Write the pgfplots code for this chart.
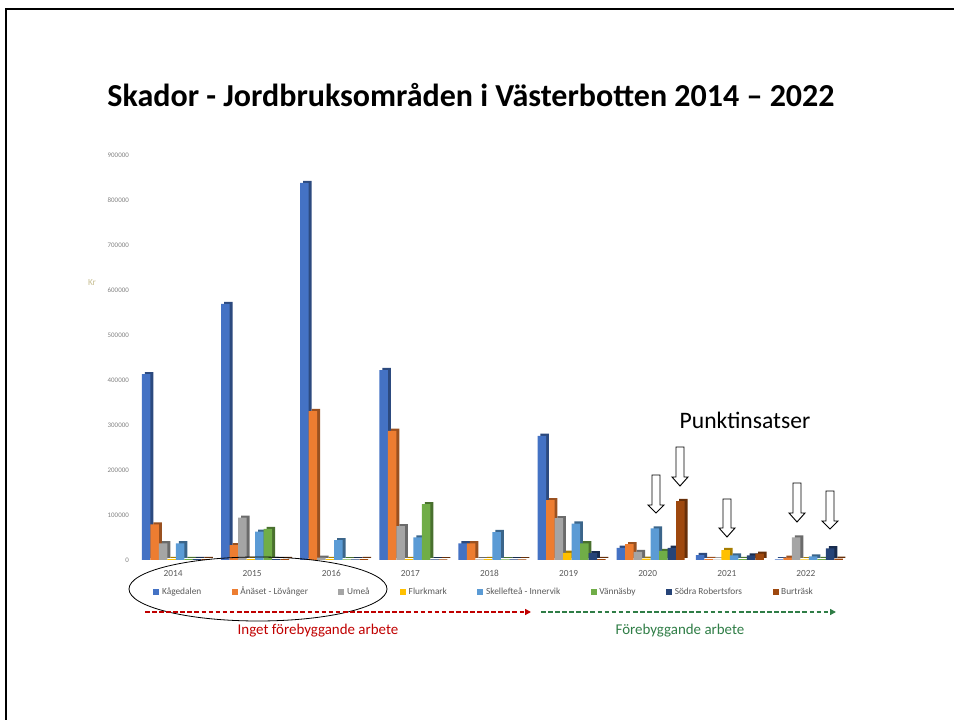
\documentclass[border=0pt]{standalone}
\usepackage{pgfplots}
\pgfplotsset{compat=1.18}
\usepackage{pgfplotstable}
\usepackage{fontspec}
\setmainfont{Carlito}
\usetikzlibrary{arrows.meta}
\definecolor{c0}{HTML}{4472C4}
\definecolor{c1}{HTML}{ED7D31}
\definecolor{c2}{HTML}{A5A5A5}
\definecolor{c3}{HTML}{FFC000}
\definecolor{c4}{HTML}{5B9BD5}
\definecolor{c5}{HTML}{70AD47}
\definecolor{c6}{HTML}{264478}
\definecolor{c7}{HTML}{9E480E}
\colorlet{d0}{c0!65!black}
\colorlet{d1}{c1!65!black}
\colorlet{d2}{c2!65!black}
\colorlet{d3}{c3!65!black}
\colorlet{d4}{c4!65!black}
\colorlet{d5}{c5!65!black}
\colorlet{d6}{c6!65!black}
\colorlet{d7}{c7!65!black}
\definecolor{txtgray}{HTML}{595959}
\definecolor{redtxt}{HTML}{C00000}
\definecolor{greentxt}{HTML}{2F7D46}
\pgfplotsset{mylegend/.style={legend image code/.code={\fill[##1] (0pt,-2.2pt) rectangle (4.5pt,2.2pt);}}}
\pgfplotstableread{
x s0 s1 s2 s3 s4 s5 s6 s7
0 413000 79000 37000 2000 37000 2000 2000 2000
1 569000 33000 94000 2000 63000 69000 2000 2000
2 838000 331000 5000 2000 44000 1500 1500 2000
3 422000 287000 75000 2000 50000 124000 1500 1500
4 37000 37000 1500 2000 62000 1500 1500 1500
5 276000 133000 93000 16000 81000 37000 15000 2000
6 27000 35000 18000 3000 70000 20000 27000 131000
7 11000 2000 1000 22000 10000 2000 10000 14000
8 1500 5000 50000 1500 8000 2000 26000 3000
}\datatable
\begin{document}
\begin{tikzpicture}
\useasboundingbox (0,0) rectangle (715.5pt,540pt);
\begin{axis}[
  at={(100.125pt,120pt)}, anchor=south west,
  scale only axis, width=534pt, height=303.75pt,
  xmin=-0.5, xmax=8.5, ymin=0, ymax=900000,
  enlargelimits=false,
  axis x line*=bottom, axis y line*=left,
  axis line style={draw=none}, tick style={draw=none},
  ytick={0,100000,...,900000},
  scaled y ticks=false,
  yticklabel style={/pgf/number format/fixed,/pgf/number format/1000 sep={},
     font=\fontsize{5.2}{6}\selectfont, text=gray},
  xtick={0,...,8},
  xticklabels={2014,2015,2016,2017,2018,2019,2020,2021,2022},
  xticklabel style={font=\fontsize{7}{8}\selectfont, text=txtgray, anchor=base, yshift=-12.5pt},
  /pgf/number format/assume math mode=true,
  legend columns=8,
  legend style={draw=none, fill=none, at={(0.022,-0.079)}, anchor=west,
     font=\fontsize{7}{8}\selectfont, text=txtgray,
     /tikz/every even column/.append style={column sep=20.8pt}},
]
\pgfplotsinvokeforeach{0,...,7}{
  \addplot[ybar, bar width=6.375pt, bar shift={(#1-3.5)*6.375pt+4.4pt}, fill=d#1, draw=none, yshift=1.6pt, forget plot] table[x=x, y=s#1]{\datatable};
  \addplot[ybar, bar width=6.375pt, bar shift={(#1-3.5)*6.375pt+2.2pt}, fill=c#1, draw=none, mylegend] table[x=x, y=s#1]{\datatable};
}
\legend{Kågedalen, Ånäset - Lövånger, Umeå, Flurkmark, Skellefteå - Innervik, Vännäsby, Södra Robertsfors, Burträsk}
\end{axis}
\begin{scope}[x=0.75pt, y=-0.75pt, shift={(0pt,540pt)}]
  \draw[line width=1.5pt] (6,720) -- (6,9) -- (954,9);
  \node[font=\bfseries\fontsize{24}{28}\selectfont] at (471,95) {Skador - Jordbruksområden i Västerbotten 2014 – 2022};
  \node[font=\fontsize{7}{8}\selectfont, text={rgb,255:red,200;green,191;blue,148}] at (92,283) {Kr};
  \node[font=\fontsize{17.7}{20}\selectfont] at (745,420) {Punktinsatser};
  \draw[line width=0.6pt] (258,589) ellipse [x radius=129, y radius=32];
  \draw[redtxt, line width=1.4pt, dash pattern=on 3.5pt off 1.8pt, -{Triangle[length=4.5pt,width=4.5pt]}] (145,612) -- (531,612);
  \draw[greentxt, line width=1.4pt, dash pattern=on 3.5pt off 1.8pt, -{Triangle[length=4.5pt,width=4.5pt]}] (541,612) -- (836,612);
  \node[font=\fontsize{11.2}{13}\selectfont, text=redtxt] at (318,631) {Inget förebyggande arbete};
  \node[font=\fontsize{11.2}{13}\selectfont, text=greentxt] at (680,631) {Förebyggande arbete};
  \foreach \c/\t/\h/\p in {656/475/505/513, 680/447/477/486, 727/499/528/537, 797/483/513/522, 830/491/521/529}{
    \draw[line width=0.7pt, fill=white] (\c-4,\t) -- (\c+4,\t) -- (\c+4,\h) -- (\c+8,\h) -- (\c,\p) -- (\c-8,\h) -- (\c-4,\h) -- cycle;
  }
\end{scope}
\end{tikzpicture}
\end{document}
